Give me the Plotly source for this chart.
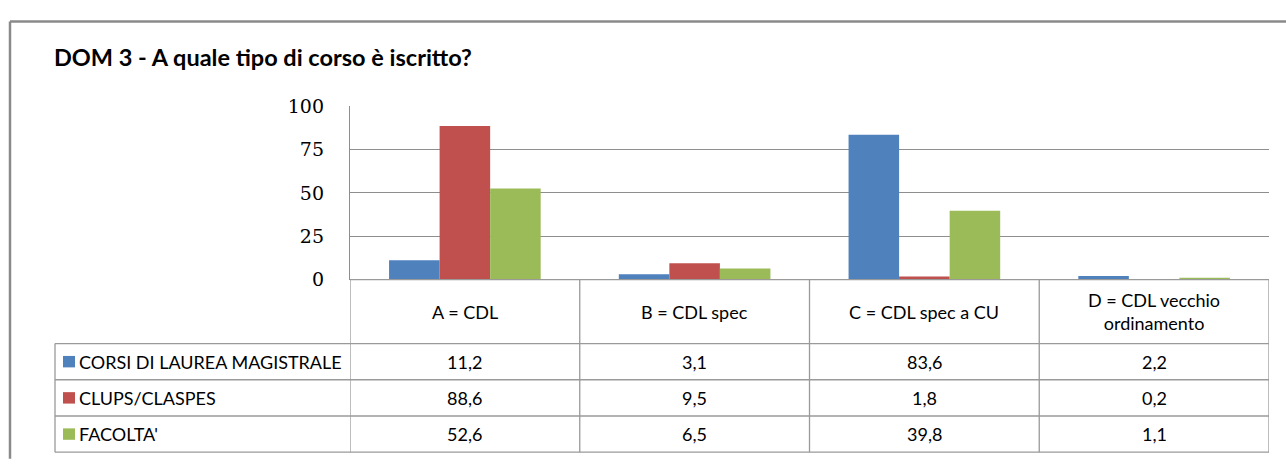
import plotly.graph_objects as go

W, H = 1286, 467

title_text = "DOM 3 - A quale tipo di corso è iscritto?"
categories = ["A = CDL", "B = CDL spec", "C = CDL spec a CU", "D = CDL vecchio<br>ordinamento"]
series_names = ["CORSI DI LAUREA MAGISTRALE", "CLUPS/CLASPES", "FACOLTA'"]
corsi_laurea_magistrale = [11.2, 3.1, 83.6, 2.2]
clups_claspes = [88.6, 9.5, 1.8, 0.2]
facolta = [52.6, 6.5, 39.8, 1.1]
y_ticks = [0, 25, 50, 75, 100]

series_values = [corsi_laurea_magistrale, clups_claspes, facolta]
colors = ["#4F81BD", "#C0504D", "#9BBB59"]
grid = "#8E8E8E"
tline = "#9A9A9A"
FONT = "Lato, Carlito, sans-serif"


def px(x):
    return x / W


def py(y):
    return 1 - y / H


# plot area in pixels
PL, PR, PT, PB = 350, 1269, 100, 282
# table rows (pixels)
rows_y = [282, 349, 387, 425, 463]
TL = 55

fig = go.Figure()
xidx = list(range(len(categories)))
for name, vals, col in zip(series_names, series_values, colors):
    fig.add_trace(go.Bar(x=xidx, y=vals, name=name, marker=dict(color=col, line=dict(width=0)),
                         showlegend=False, hoverinfo="skip"))

shapes = []
annotations = []

# outer chart border
shapes.append(dict(type="line", xref="paper", yref="paper", x0=px(10), x1=px(1290), y0=py(11), y1=py(11),
                   line=dict(color="#8A8A8A", width=2.5)))
shapes.append(dict(type="line", xref="paper", yref="paper", x0=px(10), x1=px(10), y0=py(11), y1=py(470),
                   line=dict(color="#8A8A8A", width=2.5)))

# table horizontal lines
shapes.append(dict(type="line", xref="paper", yref="paper", x0=px(PL), x1=px(PR), y0=py(rows_y[0]), y1=py(rows_y[0]),
                   line=dict(color=tline, width=1.3)))
for yy in rows_y[1:]:
    shapes.append(dict(type="line", xref="paper", yref="paper", x0=px(TL), x1=px(PR), y0=py(yy), y1=py(yy),
                       line=dict(color=tline, width=1.3)))
# table vertical lines (category boundaries via x axis)
for i in range(len(categories) + 1):
    shapes.append(dict(type="line", xref="x", yref="paper", x0=i - 0.5, x1=i - 0.5, y0=py(rows_y[0]), y1=py(rows_y[-1]),
                       line=dict(color=tline, width=1.3)))
shapes.append(dict(type="line", xref="paper", yref="paper", x0=px(TL), x1=px(TL), y0=py(rows_y[1]), y1=py(rows_y[-1]),
                   line=dict(color=tline, width=1.3)))

# header labels
for i, c in enumerate(categories):
    annotations.append(dict(x=i, xref="x", y=py((rows_y[0] + rows_y[1]) / 2), yref="paper", text=c,
                            showarrow=False, xanchor="center", yanchor="middle",
                            font=dict(family=FONT, size=18, color="#000000")))

# rows
for r, (name, vals, col) in enumerate(zip(series_names, series_values, colors)):
    yc = (rows_y[r + 1] + rows_y[r + 2]) / 2
    shapes.append(dict(type="rect", xref="paper", yref="paper", x0=px(63), x1=px(75), y0=py(yc - 6), y1=py(yc + 6),
                       fillcolor=col, line=dict(width=0)))
    annotations.append(dict(x=px(77), xref="paper", y=py(yc), yref="paper", text=name, showarrow=False,
                            xanchor="left", yanchor="middle",
                            font=dict(family=FONT, size=18, color="#000000")))
    for i, v in enumerate(vals):
        annotations.append(dict(x=i, xref="x", y=py(yc), yref="paper", text=f"{v:.1f}".replace(".", ","),
                                showarrow=False, xanchor="center", yanchor="middle",
                                font=dict(family=FONT, size=18, color="#000000")))

# title
annotations.append(dict(x=px(52), xref="paper", y=py(48), yref="paper", text="<b>" + title_text + "</b>",
                        showarrow=False, xanchor="left", yanchor="middle",
                        font=dict(family=FONT, size=23.5, color="#000000")))

fig.update_layout(
    width=W, height=H,
    margin=dict(l=0, r=0, t=0, b=0),
    paper_bgcolor="white", plot_bgcolor="white",
    barmode="group", bargap=0.34, bargroupgap=0,
    shapes=shapes, annotations=annotations,
    xaxis=dict(domain=[px(PL), px(PR)], range=[-0.5, len(categories) - 0.5], showticklabels=False,
               showgrid=False, zeroline=False, showline=False, fixedrange=True),
    yaxis=dict(domain=[py(PB), py(PT)], range=[0, 100], tickvals=y_ticks, showgrid=True, gridcolor=grid,
               gridwidth=1.3, zeroline=False, showline=True, linecolor=grid, linewidth=1.3,
               ticks="outside", ticklen=21, tickcolor="rgba(0,0,0,0)",
               tickfont=dict(family="DejaVu Serif, serif", size=19, color="#000000"), fixedrange=True),
)

fig.write_html("out.html", config={"displayModeBar": False},
               post_script="document.body.style.margin='0';document.body.style.overflow='hidden';")
